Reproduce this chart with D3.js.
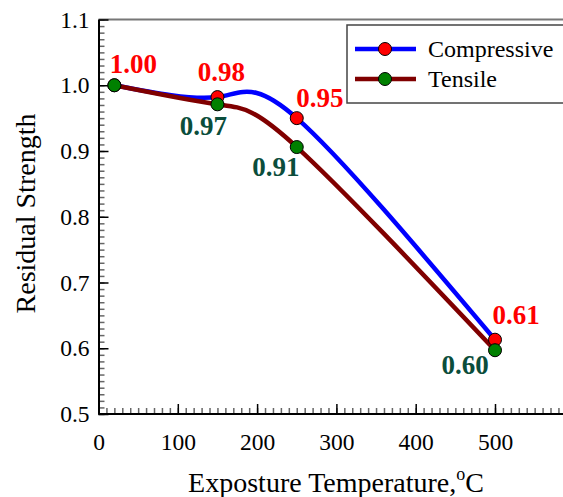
<!DOCTYPE html>
<html>
<head>
<meta charset="utf-8">
<script src="https://cdn.jsdelivr.net/npm/d3@7"></script>
<style>
  html, body { margin: 0; padding: 0; background: #fff; overflow: hidden; }
  svg { display: block; font-family: "Liberation Serif", "Times New Roman", serif; }
</style>
</head>
<body>
<div id="chart"></div>
<script>
// Data
const temperatures = [20, 150, 250, 500];
const compressive = [1.0, 0.982, 0.95, 0.613];
const tensile = [1.0, 0.971, 0.906, 0.597];
const seriesNames = ["Compressive", "Tensile"];
const xTicks = [0, 100, 200, 300, 400, 500];
const yTicks = [0.5, 0.6, 0.7, 0.8, 0.9, 1.0, 1.1];

// Label offsets (pixels, label centre / baseline relative to the marker)
const compLabelOffset = [[19, -12], [4, -16], [23, -11], [21, -16]];
const tensLabelOffset = [[0, 0], [-14, 31], [-21, 29], [-30, 24]];

function renderChart(selector) {
  const width = 563;
  const height = 497;

  const svg = d3.select(selector)
    .append("svg")
    .attr("width", width)
    .attr("height", height);

  const x = d3.scaleLinear().domain([0, 600]).range([98.5, 574.3]);
  const y = d3.scaleLinear().domain([0.5, 1.1]).range([414, 19.5]);

  // Top frame line (grey)
  svg.append("line")
    .attr("x1", x(0)).attr("x2", x(600))
    .attr("y1", y(1.1)).attr("y2", y(1.1))
    .attr("stroke", "#777").attr("stroke-width", 2);

  // Minor ticks
  svg.append("g")
    .attr("transform", `translate(0,${y(0.5)})`)
    .call(d3.axisBottom(x).tickValues(d3.range(0, 601, 10)).tickSize(-6).tickFormat(""))
    .call(g => g.select(".domain").remove())
    .call(g => g.selectAll("line").attr("stroke", "#666").attr("stroke-width", 1.5));

  svg.append("g")
    .attr("transform", `translate(${x(0)},0)`)
    .call(d3.axisLeft(y).tickValues(d3.range(50, 111).map(d => d / 100)).tickSize(-6).tickFormat(""))
    .call(g => g.select(".domain").remove())
    .call(g => g.selectAll("line").attr("stroke", "#666").attr("stroke-width", 1.5));

  // Major axes
  svg.append("g")
    .attr("transform", `translate(0,${y(0.5)})`)
    .call(d3.axisBottom(x).tickValues(xTicks).tickSize(-10).tickSizeOuter(0).tickPadding(19).tickFormat(d3.format("d")))
    .call(g => g.select(".domain").attr("stroke-width", 2).attr("d", `M${x(0)},0H${x(600)}`))
    .call(g => g.selectAll("line").attr("stroke-width", 1.5))
    .call(g => g.selectAll("text").attr("font-size", 23.5).attr("font-family", "Liberation Serif").attr("fill", "#000"));

  svg.append("g")
    .attr("transform", `translate(${x(0)},0)`)
    .call(d3.axisLeft(y).tickValues(yTicks).tickSize(-10).tickSizeOuter(0).tickPadding(9).tickFormat(d3.format(".1f")))
    .call(g => g.select(".domain").attr("stroke-width", 2))
    .call(g => g.selectAll("line").attr("stroke-width", 1.5))
    .call(g => g.selectAll("text").attr("font-size", 23.5).attr("font-family", "Liberation Serif").attr("fill", "#000"));

  // Axis titles
  const xt = svg.append("text")
    .attr("x", 336).attr("y", 492)
    .attr("text-anchor", "middle")
    .attr("font-size", 28)
    .text("Exposture Temperature,");
  xt.append("tspan").attr("dy", -12).attr("font-size", 18).text("o");
  xt.append("tspan").attr("dy", 12).text("C");

  svg.append("text")
    .attr("transform", "translate(35,213.5) rotate(-90)")
    .attr("text-anchor", "middle")
    .attr("font-size", 28)
    .text("Residual Strength");

  // Lines
  const line = d3.line()
    .x((d, i) => x(temperatures[i]))
    .y(d => y(d))
    .curve(d3.curveNatural);

  const series = [
    { name: seriesNames[0], values: compressive, line: "#0000ff", marker: "#ff0000", label: "#ff0000", offsets: compLabelOffset },
    { name: seriesNames[1], values: tensile, line: "#800000", marker: "#008000", label: "#0b4d3b", offsets: tensLabelOffset }
  ];

  series.forEach(s => {
    svg.append("path")
      .datum(s.values)
      .attr("d", line)
      .attr("fill", "none")
      .attr("stroke", s.line)
      .attr("stroke-width", 4.5);
  });

  series.forEach(s => {
    svg.append("g").selectAll("circle")
      .data(s.values)
      .join("circle")
      .attr("cx", (d, i) => x(temperatures[i]))
      .attr("cy", d => y(d))
      .attr("r", 6.5)
      .attr("fill", s.marker)
      .attr("stroke", "#000")
      .attr("stroke-width", 1);
  });

  // Value labels (tensile first point shares the 1.00 label)
  series.forEach((s, si) => {
    svg.append("g").selectAll("text")
      .data(s.values.map((v, i) => ({ v, i })).filter(d => !(si === 1 && d.i === 0)))
      .join("text")
      .attr("x", d => x(temperatures[d.i]) + s.offsets[d.i][0])
      .attr("y", d => y(d.v) + s.offsets[d.i][1])
      .attr("text-anchor", "middle")
      .attr("font-size", 27)
      .attr("font-weight", "bold")
      .attr("fill", s.label)
      .text(d => d.v.toFixed(2));
  });

  // Legend
  const lg = svg.append("g");
  lg.append("rect")
    .attr("x", 347).attr("y", 25)
    .attr("width", 260).attr("height", 78)
    .attr("fill", "#fff")
    .attr("stroke", "#444")
    .attr("stroke-width", 1.5);

  series.forEach((s, i) => {
    const ly = 49 + i * 30;
    lg.append("line")
      .attr("x1", 355).attr("x2", 416)
      .attr("y1", ly).attr("y2", ly)
      .attr("stroke", s.line).attr("stroke-width", 4.5);
    lg.append("circle")
      .attr("cx", 385).attr("cy", ly).attr("r", 6.5)
      .attr("fill", s.marker).attr("stroke", "#000").attr("stroke-width", 1);
    lg.append("text")
      .attr("x", 428).attr("y", ly + 8)
      .attr("font-size", 24)
      .text(s.name);
  });
}

renderChart("#chart");
</script>
</body>
</html>
